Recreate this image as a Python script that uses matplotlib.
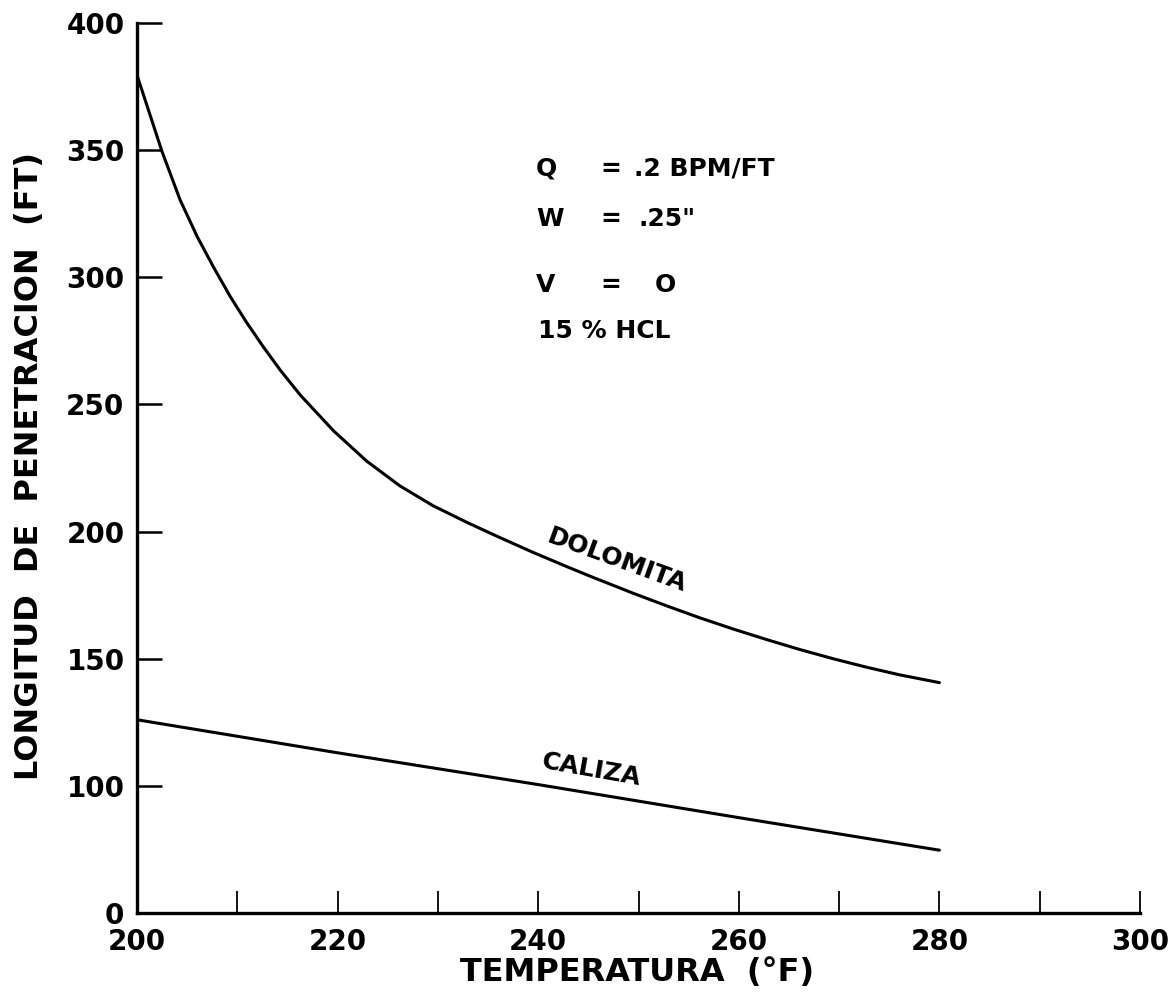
import matplotlib

matplotlib.use("Agg")
import matplotlib.pyplot as plt

# temperatura (F) vs longitud de penetracion (FT)
# note: the original y axis is broken, the bottom tick labelled "0" sits where 50 would be
dolomita_t = [200.0, 202.5, 204.3, 206.0, 207.6, 209.3, 210.9, 212.6, 214.3, 216.3,
              219.6, 222.9, 226.2, 229.5, 232.9, 236.2, 239.5, 242.8, 245.2, 249.5,
              252.8, 256.1, 259.5, 262.8, 266.1, 269.4, 272.8, 276.1, 280.0]
dolomita_l = [379.5, 349.4, 330.4, 316.0, 304.2, 292.4, 282.4, 272.6, 263.4, 253.6,
              239.6, 227.7, 218.0, 210.2, 203.6, 197.6, 191.8, 186.3, 182.4, 175.7,
              170.8, 166.1, 161.6, 157.5, 153.6, 150.0, 146.6, 143.6, 140.6]

caliza_t = [200, 220, 240, 260, 280]
caliza_l = [126, 113, 100.5, 87.5, 74.7]

x_major = [200, 220, 240, 260, 280, 300]
x_minor = [210, 230, 250, 270, 290]
y_ticks = [50, 100, 150, 200, 250, 300, 350, 400]
y_labels = ["0", "100", "150", "200", "250", "300", "350", "400"]

plt.rcParams["font.family"] = ["DejaVu Sans"]

fig = plt.figure(figsize=(11.69, 10.06), dpi=100)
ax = fig.add_axes([137 / 1169, 1 - 913 / 1006, (1140 - 137) / 1169, (913 - 23) / 1006])

ax.plot(dolomita_t, dolomita_l, color="black", lw=2.2, solid_capstyle="round",
        solid_joinstyle="round")
ax.plot(caliza_t, caliza_l, color="black", lw=2.2, solid_capstyle="round")

ax.set_xlim(200, 300)
ax.set_ylim(50, 400)
for side in ("top", "right"):
    ax.spines[side].set_visible(False)
for side in ("left", "bottom"):
    ax.spines[side].set_linewidth(2.4)

ax.set_xticks(x_major)
ax.set_xticks(x_minor, minor=True)
ax.set_yticks(y_ticks)
ax.set_yticklabels(y_labels)
ax.tick_params(axis="x", which="both", direction="in", length=16, width=1.3, pad=11,
               labelsize=20)
ax.tick_params(axis="y", direction="in", length=18, width=1.8, pad=9, labelsize=20)
for lab in ax.get_xticklabels() + ax.get_yticklabels():
    lab.set_fontweight("bold")

fig.text(637 / 1169, 1 - 972 / 1006, "TEMPERATURA  (°F)", ha="center", va="center",
         fontsize=23, fontweight="bold")
fig.text(30 / 1169, 1 - 466 / 1006, "LONGITUD  DE  PENETRACION  (FT)",
         rotation=90, ha="center", va="center", fontsize=23, fontweight="bold")

txt = dict(fontsize=18, fontweight="bold", va="center")
ax.text(239.8, 342.7, "Q", **txt)
ax.text(246.2, 342.7, "=", **txt)
ax.text(249.6, 342.7, ".2 BPM/FT", **txt)
ax.text(239.8, 323.0, "W", **txt)
ax.text(246.2, 323.0, "=", **txt)
ax.text(250.0, 323.0, ".25\"", **txt)
ax.text(239.8, 297.0, "V", **txt)
ax.text(246.2, 297.0, "=", **txt)
ax.text(251.6, 297.0, "O", **txt)
ax.text(240.0, 278.7, "15 % HCL", **txt)

ax.text(247.9, 188.8, "DOLOMITA", fontsize=18, fontweight="bold", rotation=-20,
        ha="center", va="center")
ax.text(245.3, 106.2, "CALIZA", fontsize=18, fontweight="bold", rotation=-10,
        ha="center", va="center")

fig.savefig("out.png", dpi=100)
plt.close(fig)
